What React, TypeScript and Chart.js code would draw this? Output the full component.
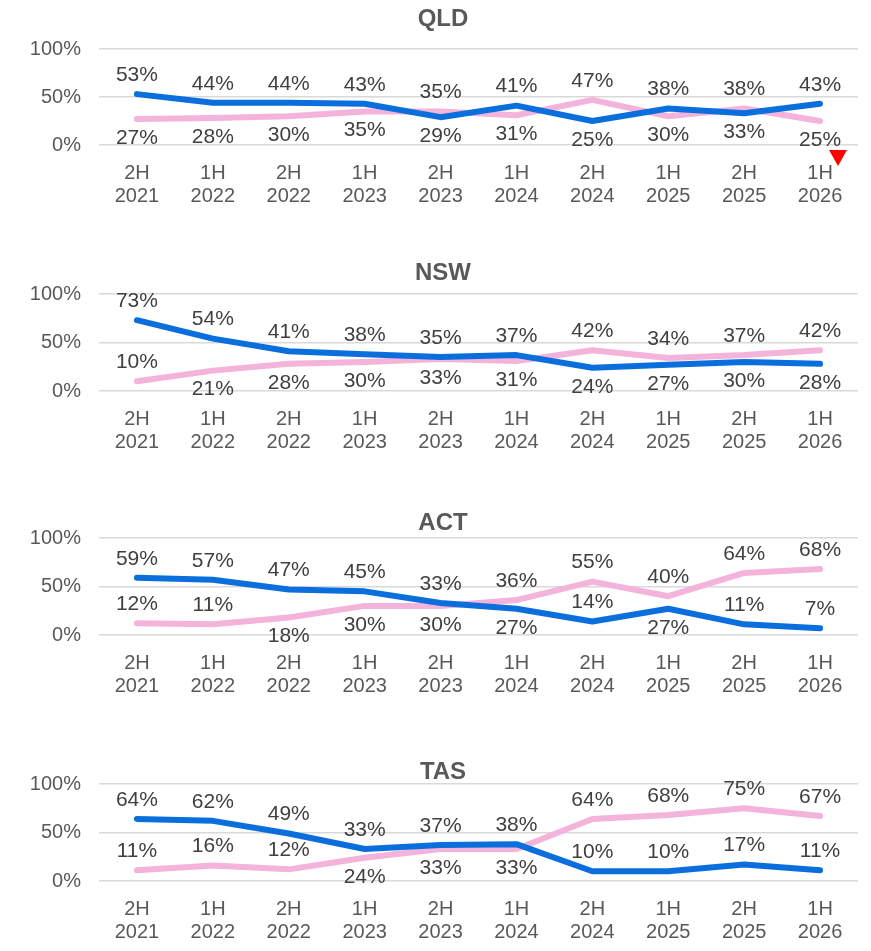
import React, { useEffect, useRef } from "react";
import { Chart, registerables } from "chart.js";

Chart.register(...registerables);

const categories: string[][] = [
  ["2H", "2021"], ["1H", "2022"], ["2H", "2022"], ["1H", "2023"], ["2H", "2023"],
  ["1H", "2024"], ["2H", "2024"], ["1H", "2025"], ["2H", "2025"], ["1H", "2026"],
];
const yTicks = [0, 50, 100];

const qldBlue = [53, 44, 44, 43, 29, 41, 25, 38, 33, 43];
const qldPink = [27, 28, 30, 35, 35, 31, 47, 30, 38, 25];
const nswBlue = [73, 54, 41, 38, 35, 37, 24, 27, 30, 28];
const nswPink = [10, 21, 28, 30, 33, 31, 42, 34, 37, 42];
const actBlue = [59, 57, 47, 45, 33, 27, 14, 27, 11, 7];
const actPink = [12, 11, 18, 30, 30, 36, 55, 40, 64, 68];
const tasBlue = [64, 62, 49, 33, 37, 38, 10, 10, 17, 11];
const tasPink = [11, 16, 12, 24, 33, 33, 64, 68, 75, 67];

const BLUE = "#0A6FDC";
const PINK = "#F3B3DA";
const FONT = "'Liberation Sans', Arial, sans-serif";

type Panel = {
  title: string;
  blue: number[];
  pink: number[];
  bandTop: number;
  bandBottom: number;
  gridTop: number;
  gridZero: number;
  titleY: number;
  marker?: boolean;
};

const panels: Panel[] = [
  { title: "QLD", blue: qldBlue, pink: qldPink, bandTop: 0, bandBottom: 240, gridTop: 49, gridZero: 145, titleY: 19, marker: true },
  { title: "NSW", blue: nswBlue, pink: nswPink, bandTop: 240, bandBottom: 487, gridTop: 294, gridZero: 391, titleY: 273 },
  { title: "ACT", blue: actBlue, pink: actPink, bandTop: 487, bandBottom: 733, gridTop: 538, gridZero: 635, titleY: 523 },
  { title: "TAS", blue: tasBlue, pink: tasPink, bandTop: 733, bandBottom: 951, gridTop: 784, gridZero: 881, titleY: 772 },
];

const X_AXIS_H = 70;

function PanelChart({ p }: { p: Panel }) {
  const ref = useRef<HTMLCanvasElement>(null);
  useEffect(() => {
    if (!ref.current) return;
    const height = p.bandBottom - p.bandTop;
    const overlay = {
      id: "overlay",
      afterDatasetsDraw(chart: any) {
        const ctx = chart.ctx;
        ctx.save();
        ctx.font = `bold 24px ${FONT}`;
        ctx.fillStyle = "#595959";
        ctx.textAlign = "center";
        ctx.textBaseline = "middle";
        ctx.fillText(p.title, 443, p.titleY - p.bandTop);
        ctx.font = `21px ${FONT}`;
        ctx.fillStyle = "#404040";
        const metaB = chart.getDatasetMeta(0);
        const metaP = chart.getDatasetMeta(1);
        for (let i = 0; i < categories.length; i++) {
          const b = p.blue[i];
          const k = p.pink[i];
          const pb = metaB.data[i];
          const pk = metaP.data[i];
          const place = (v: number, other: number, pt: any) => {
            let above = true;
            if (v < other && other - v < 36) above = false;
            const y = above ? pt.y - 19 : pt.y + 19;
            ctx.fillText(v + "%", pt.x, y);
          };
          place(b, k, pb);
          place(k, b, pk);
        }
        if (p.marker) {
          ctx.fillStyle = "#FF0000";
          ctx.beginPath();
          ctx.moveTo(829, 150 - p.bandTop);
          ctx.lineTo(847, 150 - p.bandTop);
          ctx.lineTo(838, 166 - p.bandTop);
          ctx.closePath();
          ctx.fill();
        }
        ctx.restore();
      },
    };
    const chart = new Chart(ref.current, {
      type: "line",
      data: {
        labels: categories,
        datasets: [
          {
            data: p.blue,
            borderColor: BLUE,
            backgroundColor: BLUE,
            borderWidth: 6,
            pointRadius: 0,
            tension: 0,
            borderCapStyle: "round",
            borderJoinStyle: "round",
          },
          {
            data: p.pink,
            borderColor: PINK,
            backgroundColor: PINK,
            borderWidth: 6,
            pointRadius: 0,
            tension: 0,
            borderCapStyle: "round",
            borderJoinStyle: "round",
          },
        ],
      },
      options: {
        animation: false,
        responsive: false,
        maintainAspectRatio: false,
        devicePixelRatio: 1,
        layout: {
          padding: {
            top: p.gridTop - p.bandTop,
            bottom: height - (p.gridZero - p.bandTop) - X_AXIS_H,
            left: 0,
            right: 13,
          },
        },
        plugins: {
          legend: { display: false },
          title: { display: false },
          tooltip: { enabled: false },
        },
        scales: {
          x: {
            offset: true,
            grid: { display: false, drawTicks: false },
            border: { display: false },
            ticks: {
              color: "#595959",
              font: { family: FONT, size: 20, lineHeight: 1.15 },
              padding: 17,
              maxRotation: 0,
              autoSkip: false,
            },
            afterFit: (s: any) => {
              s.height = X_AXIS_H;
            },
          },
          y: {
            min: 0,
            max: 100,
            afterBuildTicks: (s: any) => {
              s.ticks = yTicks.map((v) => ({ value: v }));
            },
            grid: { color: "#D9D9D9", lineWidth: 1.5, drawTicks: false },
            border: { display: false },
            ticks: {
              color: "#595959",
              font: { family: FONT, size: 20 },
              padding: 18,
              callback: (v: any) => v + "%",
            },
            afterFit: (s: any) => {
              s.width = 99;
            },
          },
        },
      },
      plugins: [overlay],
    } as any);
    return () => chart.destroy();
  }, [p]);
  return (
    <canvas
      ref={ref}
      width={871}
      height={p.bandBottom - p.bandTop}
      style={{ position: "absolute", left: 0, top: p.bandTop, width: 871, height: p.bandBottom - p.bandTop }}
    />
  );
}

export default function App() {
  return (
    <div style={{ position: "fixed", left: 0, top: 0, width: 871, height: 951, background: "#fff", overflow: "hidden" }}>
      {panels.map((p) => (
        <PanelChart key={p.title} p={p} />
      ))}
    </div>
  );
}
